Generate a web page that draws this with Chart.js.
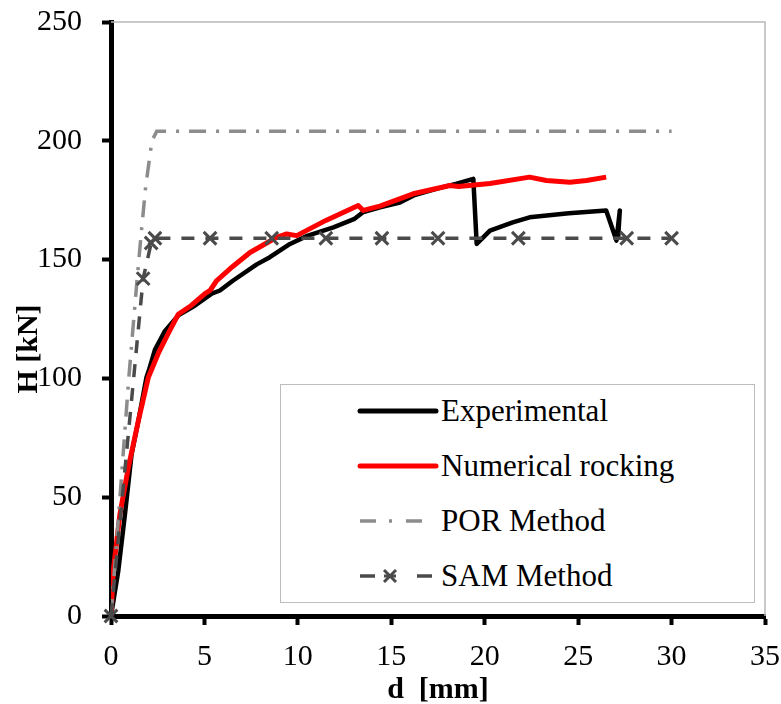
<!DOCTYPE html>
<html>
<head>
<meta charset="utf-8">
<script src="https://cdn.jsdelivr.net/npm/chart.js@4/dist/chart.umd.min.js"></script>
<style>
html,body{margin:0;padding:0;background:#fff;}
#wrap{position:relative;width:781px;height:704px;}
#legend{position:absolute;left:280px;top:384px;width:475px;height:219px;border:1.5px solid #bdbdbd;box-sizing:border-box;background:#fff;font-family:"Liberation Serif","Times New Roman",Times,Tinos,"DejaVu Serif","Noto Serif",FreeSerif,"Nimbus Roman",serif;font-size:31px;color:#000;}
.row{position:absolute;left:0;width:470px;height:40px;}
.row svg{position:absolute;left:0;top:0;}
.row span{position:absolute;left:160px;top:0;line-height:40px;white-space:nowrap;}
</style>
</head>
<body>
<div id="wrap">
<canvas id="c" width="781" height="704"></canvas>
<div id="legend"></div>
</div>
<script>
// ---- data ----
const xTickStep = 5;
const yTickStep = 50;

const seriesNames = ["Experimental", "Numerical rocking", "POR Method", "SAM Method"];

const expX = [0, 0.39, 0.75, 1.1, 1.46, 1.9, 2.05, 2.35, 2.89, 3.6, 4.5, 5.39, 5.83, 6.5, 7.8, 8.5, 9.58, 10.5, 11.9, 13.0, 13.5, 14.4, 15.46, 16.2, 17.5, 18.5, 19.39, 19.57, 20.28, 21.5, 22.4, 24.5, 26.5, 27.05, 27.23, 27.14];
const expY = [0, 19, 43, 68, 82, 100.5, 104, 112, 120, 126.5, 130.7, 135.7, 137, 141, 148, 151, 156.6, 160, 163.6, 167, 170, 172, 174, 177, 180, 182, 184, 156.6, 162.2, 165.7, 167.8, 169.5, 170.7, 158, 170.7, 159.4];

const numX = [0, 0.12, 0.48, 0.93, 1.46, 2.0, 2.53, 3.07, 3.6, 4.3, 5.03, 5.3, 5.66, 6.5, 7.44, 8.87, 9.4, 9.94, 11.5, 13.23, 13.5, 14.39, 16.17, 18.14, 18.6, 20.28, 22.4, 23.3, 24.56, 25.45, 26.5];
const numY = [0, 19, 43, 62.6, 82, 100.5, 110.5, 119, 127, 130.7, 135.7, 137, 141.2, 147, 153, 159.4, 160.8, 160.1, 166.5, 172.8, 170.7, 172.5, 177.7, 181.2, 180.8, 182, 184.7, 183.3, 182.6, 183.3, 184.7];

const porX = [0, 0.48, 0.95, 1.4, 1.64, 1.86, 2.19, 2.45, 30];
const porY = [0, 50, 100, 142, 163, 181, 200, 204, 204];

const samX = [0, 1.72, 2.15, 2.35, 5.3, 8.6, 11.5, 14.5, 17.5, 21.8, 27.6, 30.0];
const samY = [0, 142, 157, 159, 159, 159, 159, 159, 159, 159, 159, 159];

// ---- build ----
const pts = (xs, ys) => xs.map((x, i) => ({x: x, y: ys[i]}));
const SERIF = "'Liberation Serif','Times New Roman',Times,Tinos,'DejaVu Serif','Noto Serif',FreeSerif,'Nimbus Roman',serif";

const frame = {
  id: 'frame',
  beforeDatasetsDraw(chart) {
    const {ctx, chartArea: a} = chart;
    ctx.save();
    ctx.strokeStyle = '#b8b8b8';
    ctx.lineWidth = 1.5;
    ctx.beginPath();
    ctx.moveTo(a.left, a.top);
    ctx.lineTo(a.right, a.top);
    ctx.lineTo(a.right, a.bottom);
    ctx.stroke();
    ctx.restore();
  }
};

const datasets = [
  {label: seriesNames[0], data: pts(expX, expY), borderColor: '#000', borderWidth: 4.5, pointRadius: 0, order: 4, borderJoinStyle: 'round'},
  {label: seriesNames[1], data: pts(numX, numY), borderColor: '#ff0000', borderWidth: 5, pointRadius: 0, order: 3, borderJoinStyle: 'round'},
  {label: seriesNames[2], data: pts(porX, porY), borderColor: '#8c8c8c', borderWidth: 3.5, borderDash: [17, 10, 3, 10], pointRadius: 0, order: 2},
  {label: seriesNames[3], data: pts(samX, samY), borderColor: '#4a4a4a', borderWidth: 3.5, borderDash: [13, 11], pointStyle: 'crossRot', pointRadius: 9, pointBorderWidth: 3, pointBorderColor: '#4a4a4a', pointBackgroundColor: '#4a4a4a', order: 1, clip: false}
];
datasets.forEach(d => { d.showLine = true; d.tension = 0; d.fill = false; });

new Chart(document.getElementById('c'), {
  type: 'scatter',
  data: {datasets: datasets},
  plugins: [frame],
  options: {
    responsive: false,
    devicePixelRatio: 1,
    animation: false,
    layout: {padding: {left: 10, right: 16, top: 22, bottom: 0}},
    plugins: {legend: {display: false}, tooltip: {enabled: false}},
    scales: {
      x: {
        type: 'linear', min: 0, max: 35,
        ticks: {stepSize: xTickStep, padding: 14, color: '#000', maxRotation: 0, font: {family: SERIF, size: 30}},
        grid: {display: true, drawOnChartArea: false, drawTicks: true, tickLength: 9, tickWidth: 4, tickColor: '#000'},
        border: {display: true, color: '#000', width: 5},
        title: {display: true, text: 'd  [mm]', color: '#000', font: {family: SERIF, size: 30, weight: 'bold', lineHeight: 0.9}, padding: {top: 0, bottom: 0}},
        afterFit(s) { s.height = 88; s.paddingLeft = 0; s.paddingRight = 0; }
      },
      y: {
        type: 'linear', min: 0, max: 250,
        ticks: {stepSize: yTickStep, padding: 20, color: '#000', font: {family: SERIF, size: 30}},
        grid: {display: true, drawOnChartArea: false, drawTicks: true, tickLength: 9, tickWidth: 4, tickColor: '#000'},
        border: {display: true, color: '#000', width: 5},
        title: {display: true, text: 'H [kN]        ', color: '#000', font: {family: SERIF, size: 30, weight: 'bold', lineHeight: 1.2}, padding: {top: 1, bottom: 0}},
        afterFit(s) { s.width = 101; s.paddingTop = 0; s.paddingBottom = 0; }
      }
    }
  }
});

// ---- HTML legend (inside plot, bottom right) ----
const lg = document.getElementById('legend');
const rowTops = [6, 61, 116, 171];
const samples = [
  '<line x1="79" y1="20" x2="155" y2="20" stroke="#000" stroke-width="5" stroke-linecap="round"/>',
  '<line x1="79" y1="20" x2="155" y2="20" stroke="#ff0000" stroke-width="5" stroke-linecap="round"/>',
  '<line x1="79" y1="20" x2="95" y2="20" stroke="#8c8c8c" stroke-width="3.5"/><line x1="108" y1="20" x2="111" y2="20" stroke="#8c8c8c" stroke-width="3.5"/><line x1="125" y1="20" x2="141" y2="20" stroke="#8c8c8c" stroke-width="3.5"/>',
  '<line x1="79" y1="20" x2="94" y2="20" stroke="#4a4a4a" stroke-width="3.5"/><line x1="103" y1="14" x2="115" y2="26" stroke="#4a4a4a" stroke-width="3"/><line x1="103" y1="26" x2="115" y2="14" stroke="#4a4a4a" stroke-width="3"/><line x1="103" y1="20" x2="115" y2="20" stroke="#4a4a4a" stroke-width="3"/><line x1="136" y1="20" x2="151" y2="20" stroke="#4a4a4a" stroke-width="3.5"/>'
];
seriesNames.forEach((name, i) => {
  const r = document.createElement('div');
  r.className = 'row';
  r.style.top = rowTops[i] + 'px';
  r.innerHTML = '<svg width="160" height="40">' + samples[i] + '</svg><span>' + name + '</span>';
  lg.appendChild(r);
});
</script>
</body>
</html>
